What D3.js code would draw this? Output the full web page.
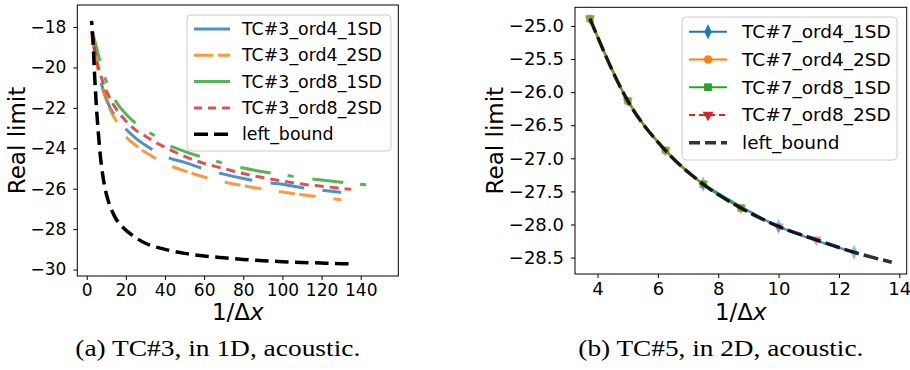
<!DOCTYPE html>
<html>
<head>
<meta charset="utf-8">
<script src="https://cdn.jsdelivr.net/npm/d3@7"></script>
<style>
  body { margin: 0; background: #fff; }
  svg text { font-family: "DejaVu Sans", sans-serif; fill: #000; }
  .caption { font-family: "Liberation Serif", "DejaVu Serif", serif !important; }
</style>
</head>
<body>
<div id="chart"></div>
<script>
// ---- data: (a) TC#3, 1D ----
const tc3Ord4X = [2.5, 5, 7.5, 10, 12.5, 15, 20, 25, 30, 35, 40, 50, 60, 70, 80, 90, 100, 110, 120, 130];
const tc3Ord4_1SD = [-18.2, -19.7, -20.8, -21.55, -22.1, -22.45, -23.05, -23.5, -23.85, -24.15, -24.4, -24.7, -25.02, -25.28, -25.5, -25.67, -25.78, -25.95, -26.07, -26.19];
const tc3Ord4_2SD = [-18.3, -19.75, -20.85, -21.6, -22.2, -22.65, -23.42, -23.85, -24.2, -24.49, -24.75, -25.12, -25.42, -25.67, -25.85, -26.02, -26.16, -26.3, -26.42, -26.55];
const tc3Ord8_1SDX = [2.5, 5, 7.5, 10, 12.5, 15, 20, 25, 30, 35, 40, 50, 60, 70, 80, 90, 100, 110, 120, 130, 140, 147];
const tc3Ord8_1SD = [-18.1, -19.0, -19.95, -20.7, -21.25, -21.7, -22.3, -22.76, -23.1, -23.4, -23.75, -24.15, -24.47, -24.74, -24.98, -25.16, -25.31, -25.45, -25.57, -25.68, -25.78, -25.85];
const tc3Ord8_2SDX = [2.5, 5, 7.5, 10, 12.5, 15, 20, 25, 30, 35, 40, 50, 60, 70, 80, 90, 100, 110, 120, 130, 135];
const tc3Ord8_2SD = [-18.15, -19.6, -20.5, -21.15, -21.65, -22.05, -22.65, -23.1, -23.4, -23.7, -23.95, -24.4, -24.75, -25.0, -25.25, -25.45, -25.62, -25.77, -25.88, -25.98, -26.03];
const tc3BoundX = [2.5, 3, 4, 5, 6, 7, 8, 9, 10, 11, 12, 13, 15, 17, 20, 25, 30, 40, 50, 60, 70, 80, 90, 100, 110, 120, 130, 135];
const tc3Bound = [-17.7, -18.3, -20.3, -22.0, -23.3, -24.4, -25.2, -25.8, -26.25, -26.6, -26.9, -27.12, -27.5, -27.76, -28.05, -28.42, -28.7, -29.0, -29.2, -29.33, -29.42, -29.5, -29.56, -29.61, -29.65, -29.68, -29.71, -29.72];
const tc3XTicks = [0, 20, 40, 60, 80, 100, 120, 140];
const tc3YTicks = [-30, -28, -26, -24, -22, -20, -18];

// ---- data: (b) TC#5, 2D ----
const tc7Ord4_1SDX = [7.5, 10, 12.5];
const tc7Ord4_1SD = [-27.39, -28.03, -28.42];
const tc7Ord4_2SDX = [3.75, 5, 6.25, 7.5, 8.75];
const tc7Ord4_2SD = [-24.89, -26.13, -26.88, -27.39, -27.75];
const tc7Ord8_1SDX = [3.75, 5, 6.25, 7.5, 8.75];
const tc7Ord8_1SD = [-24.89, -26.13, -26.88, -27.39, -27.75];
const tc7Ord8_2SDX = [3.75, 5, 6.25, 7.5, 8.75, 10, 11.25];
const tc7Ord8_2SD = [-24.89, -26.13, -26.88, -27.39, -27.75, -28.03, -28.23];
const tc7BoundX = [3.75, 5, 6.25, 7.5, 8.75, 10, 11.25, 12.5, 13.75];
const tc7Bound = [-24.89, -26.13, -26.88, -27.39, -27.75, -28.03, -28.23, -28.42, -28.57];
const tc7XTicks = [4, 6, 8, 10, 12, 14];
const tc7YTicks = [-28.5, -28.0, -27.5, -27.0, -26.5, -26.0, -25.5, -25.0];

const zip = (xs, ys) => xs.map((x, i) => ({ x: x, y: ys[i] }));

const svg = d3.select("#chart").append("svg")
    .attr("width", 910)
    .attr("height", 370);

// length along a path at the first point whose screen x reaches px
function lengthAtX(node, px) {
    const total = node.getTotalLength();
    let lo = 0, hi = total;
    for (let i = 0; i < 40; i++) {
        const mid = (lo + hi) / 2;
        if (node.getPointAtLength(mid).x < px) lo = mid; else hi = mid;
    }
    return lo;
}

function drawAxes(xScale, yScale, xTicks, yTicks, yFmt, fontSize, yLabelX, caption) {
    const [x0, x1] = xScale.range();
    const [y0, y1] = yScale.range();

    const xAxis = svg.append("g")
        .attr("transform", `translate(0,${y0})`)
        .call(d3.axisBottom(xScale).tickValues(xTicks).tickSize(4).tickPadding(4).tickFormat(d3.format("d")));
    const yAxis = svg.append("g")
        .attr("transform", `translate(${x0},0)`)
        .call(d3.axisLeft(yScale).tickValues(yTicks).tickSize(4).tickPadding(7).tickFormat(d3.format(yFmt)));
    [xAxis, yAxis].forEach(a => {
        a.select(".domain").remove();
        a.selectAll("line").attr("stroke", "#000");
        a.selectAll("text").style("font-size", fontSize + "px")
            .style("font-family", "DejaVu Sans");
    });

    svg.append("rect")
        .attr("x", x0).attr("y", y1)
        .attr("width", x1 - x0).attr("height", y0 - y1)
        .attr("fill", "none").attr("stroke", "#000").attr("stroke-width", 1);

    const cx = (x0 + x1) / 2;
    svg.append("text")
        .attr("transform", `translate(${yLabelX},${(y0 + y1) / 2}) rotate(-90)`)
        .attr("text-anchor", "middle")
        .style("font-size", "23px")
        .text("Real limit");

    const xl = svg.append("text")
        .attr("x", cx).attr("y", 320)
        .attr("text-anchor", "middle")
        .style("font-size", "23px");
    xl.append("tspan").text("1/Δ");
    xl.append("tspan").style("font-style", "italic").text("x");

    svg.append("text")
        .attr("class", "caption")
        .attr("x", cx - 20).attr("y", 356)
        .attr("text-anchor", "middle")
        .attr("textLength", 285)
        .attr("lengthAdjust", "spacingAndGlyphs")
        .style("font-size", "23px")
        .text(caption);
}

// ---------------- left panel ----------------
const xL = d3.scaleLinear().domain([-4.8, 159.2]).range([77.3, 398.3]);
const yL = d3.scaleLinear().domain([-30.32, -16.91]).range([276, 5]);

// phaseX: an x where one of the dashes begins in the original
const leftSeries = [
    { label: "TC#3_ord4_1SD", pts: zip(tc3Ord4X, tc3Ord4_1SD), color: "#1f77b4", dash: [34, 18.5], phaseX: 41.9, w: 3 },
    { label: "TC#3_ord4_2SD", pts: zip(tc3Ord4X, tc3Ord4_2SD), color: "#ff7f0e", dash: [16, 4.5, 16.5, 18], phaseX: 43.6, w: 3 },
    { label: "TC#3_ord8_1SD", pts: zip(tc3Ord8_1SDX, tc3Ord8_1SD), color: "#2ca02c", dash: [31, 17, 6, 19], phaseX: 42.8, w: 3 },
    { label: "TC#3_ord8_2SD", pts: zip(tc3Ord8_2SDX, tc3Ord8_2SD), color: "#d62728", dash: [9, 6], phaseX: 101.3, w: 3 },
    { label: "left_bound", pts: zip(tc3BoundX, tc3Bound), color: "#000", dash: [13.5, 6.5], phaseX: 96.2, w: 3.5, opacity: 1 }
];

drawAxes(xL, yL, tc3XTicks, tc3YTicks, "d", 17, 25, "(a) TC#3, in 1D, acoustic.");

const lineL = d3.line().x(d => xL(d.x)).y(d => yL(d.y)).curve(d3.curveMonotoneX);
leftSeries.forEach(s => {
    const p = svg.append("path")
        .attr("d", lineL(s.pts))
        .attr("fill", "none")
        .attr("stroke", s.color)
        .attr("stroke-opacity", s.opacity || 0.8)
        .attr("stroke-width", s.w)
        .attr("stroke-dasharray", s.dash.join(","));
    const period = d3.sum(s.dash);
    const L = lengthAtX(p.node(), xL(s.phaseX));
    p.attr("stroke-dashoffset", (period - L % period) % period);
});

// legend (a)
const legL = svg.append("g");
legL.append("rect")
    .attr("x", 187).attr("y", 15).attr("width", 204).attr("height", 136)
    .attr("rx", 4).attr("fill", "#fff").attr("fill-opacity", 0.8)
    .attr("stroke", "#ccc");
const legendDash = [null, "19,5", null, "8,6", "14,6"];
leftSeries.forEach((s, i) => {
    const y = 29 + i * 26.3;
    legL.append("line")
        .attr("x1", 194).attr("x2", 230).attr("y1", y).attr("y2", y)
        .attr("stroke", s.color).attr("stroke-opacity", s.opacity || 0.8)
        .attr("stroke-width", s.w)
        .attr("stroke-dasharray", legendDash[i]);
    legL.append("text")
        .attr("x", 242).attr("y", y).attr("dy", "0.35em")
        .style("font-size", "17.4px")
        .text(s.label);
});

// ---------------- right panel ----------------
const xR = d3.scaleLinear().domain([3.255, 14.245]).range([575, 906.7]);
const yR = d3.scaleLinear().domain([-28.748, -24.718]).range([274, 7.3]);

const rightSeries = [
    { label: "TC#7_ord4_1SD", pts: zip(tc7Ord4_1SDX, tc7Ord4_1SD), color: "#1f77b4", marker: d3.symbolDiamond, size: 70, squeeze: 0.8 },
    { label: "TC#7_ord4_2SD", pts: zip(tc7Ord4_2SDX, tc7Ord4_2SD), color: "#ff7f0e", marker: d3.symbolCircle, size: 55 },
    { label: "TC#7_ord8_1SD", pts: zip(tc7Ord8_1SDX, tc7Ord8_1SD), color: "#2ca02c", marker: d3.symbolSquare, size: 60 },
    { label: "TC#7_ord8_2SD", pts: zip(tc7Ord8_2SDX, tc7Ord8_2SD), color: "#d62728", marker: d3.symbolTriangle, size: 50, flip: true, dash: "6,4" }
];
const boundR = { label: "left_bound", pts: zip(tc7BoundX, tc7Bound), color: "#000" };

drawAxes(xR, yR, tc7XTicks, tc7YTicks, ".1f", 18, 503, "(b) TC#5, in 2D, acoustic.");

const markerTf = (s, x, y) =>
    `translate(${x},${y})${s.flip ? " rotate(180)" : ""}${s.squeeze ? ` scale(${s.squeeze},1)` : ""}`;

const lineR = d3.line().x(d => xR(d.x)).y(d => yR(d.y)).curve(d3.curveMonotoneX);
// draw order so that the visible markers match: red, orange, blue, green
[3, 1, 0, 2].forEach(k => {
    const s = rightSeries[k];
    svg.append("path")
        .attr("d", lineR(s.pts))
        .attr("fill", "none")
        .attr("stroke", s.color)
        .attr("stroke-opacity", 0.8)
        .attr("stroke-width", 2.5)
        .attr("stroke-dasharray", s.dash || null);
    svg.append("g").selectAll("path")
        .data(s.pts)
        .join("path")
        .attr("transform", d => markerTf(s, xR(d.x), yR(d.y)))
        .attr("d", d3.symbol(s.marker, s.size))
        .attr("fill", s.color)
        .attr("fill-opacity", 0.45);
});
svg.append("path")
    .attr("d", lineR(boundR.pts))
    .attr("fill", "none")
    .attr("stroke", boundR.color)
    .attr("stroke-opacity", 0.82)
    .attr("stroke-width", 3.5)
    .attr("stroke-dasharray", "15,5");

// legend (b)
const legR = svg.append("g");
legR.append("rect")
    .attr("x", 682).attr("y", 17).attr("width", 215).attr("height", 143)
    .attr("rx", 4).attr("fill", "#fff").attr("fill-opacity", 0.8)
    .attr("stroke", "#ccc");
rightSeries.concat([boundR]).forEach((s, i) => {
    const y = 31.7 + i * 27.75;
    legR.append("line")
        .attr("x1", 689).attr("x2", 727).attr("y1", y).attr("y2", y)
        .attr("stroke", s.color)
        .attr("stroke-opacity", s === boundR ? 0.8 : 1)
        .attr("stroke-width", s === boundR ? 3.5 : 2)
        .attr("stroke-dasharray", s === boundR ? "11,5" : (s.dash || null));
    if (s.marker) {
        legR.append("path")
            .attr("transform", markerTf(s, 708, y))
            .attr("d", d3.symbol(s.marker, s.size))
            .attr("fill", s.color);
    }
    legR.append("text")
        .attr("x", 742).attr("y", y).attr("dy", "0.35em")
        .style("font-size", "18.5px")
        .text(s.label);
});
</script>
</body>
</html>
